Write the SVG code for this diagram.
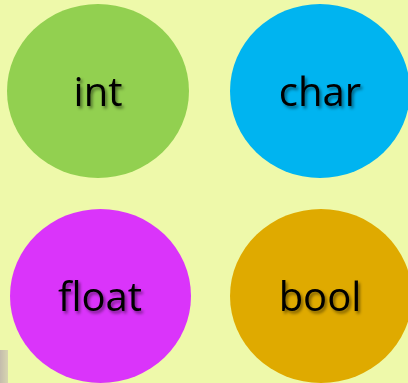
<svg xmlns="http://www.w3.org/2000/svg" width="408" height="383" viewBox="0 0 408 383">
  <defs>
    <style>
      .label { font-family: "Open Sans", "Noto Sans", "DejaVu Sans", sans-serif; font-size: 40px; fill: #000; text-anchor: middle; filter: url(#shadow); }
    </style>
    <filter id="shadow" x="-20%" y="-20%" width="140%" height="150%">
      <feDropShadow dx="2" dy="2.5" stdDeviation="1.5" flood-color="#000" flood-opacity="0.45"/>
    </filter>
    <linearGradient id="edge" x1="0" y1="0" x2="1" y2="0">
      <stop offset="0" stop-color="#c4bcac"/>
      <stop offset="1" stop-color="#d8d6b0"/>
    </linearGradient>
  </defs>
  <rect width="408" height="383" fill="#EEF9AA"/>
  <rect x="0" y="350" width="8" height="33" fill="url(#edge)"/>
  <g id="int">
    <ellipse cx="98" cy="91" rx="91" ry="87" fill="#92D050"/>
    <text class="label" x="98" y="106">int</text>
  </g>
  <g id="char">
    <ellipse cx="320" cy="91" rx="90" ry="87" fill="#00B4F0"/>
    <text class="label" x="320" y="106">char</text>
  </g>
  <g id="float">
    <ellipse cx="100.5" cy="296" rx="90.5" ry="87" fill="#DA34FA"/>
    <text class="label" x="100" y="311">float</text>
  </g>
  <g id="bool">
    <ellipse cx="321" cy="296" rx="91" ry="87" fill="#DFAA00"/>
    <text class="label" x="320" y="311">bool</text>
  </g>
  <g id="connectors"/>
</svg>
